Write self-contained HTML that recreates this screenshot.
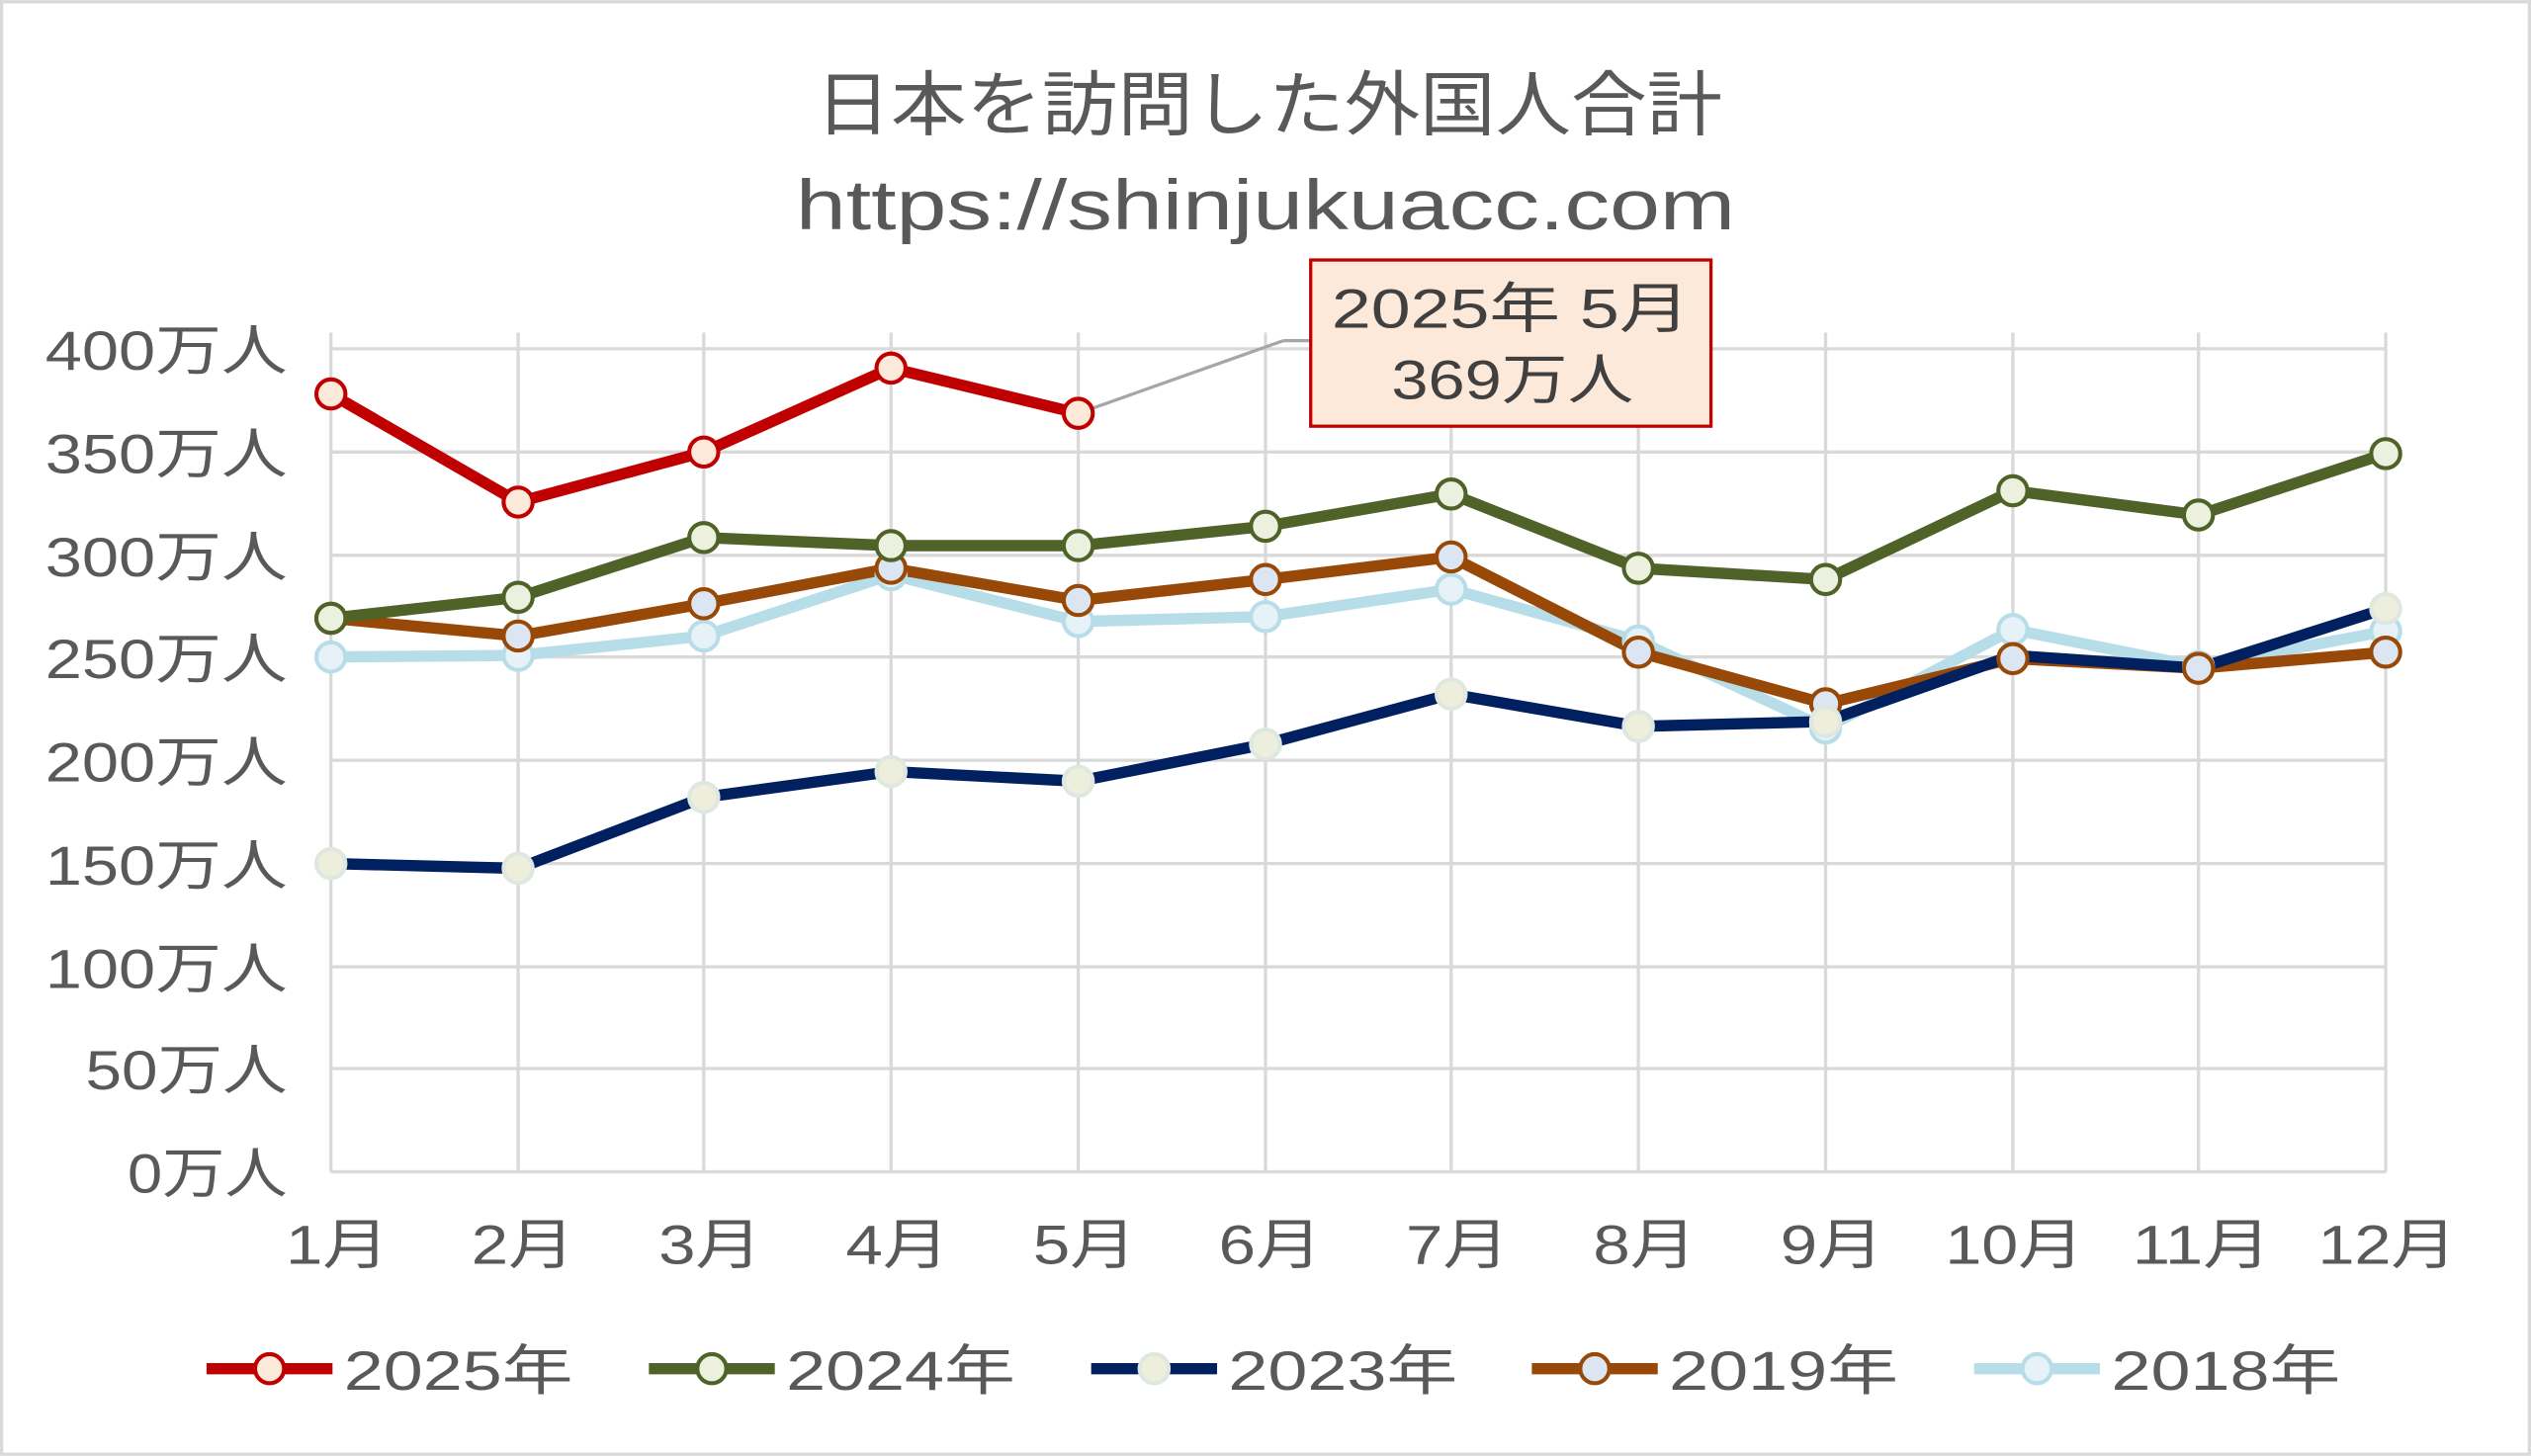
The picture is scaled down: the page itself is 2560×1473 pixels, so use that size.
<!DOCTYPE html>
<html><head><meta charset="utf-8"><style>
html,body{margin:0;padding:0;background:#fff}
svg{display:block}
text{font-family:"Liberation Sans","Noto Sans CJK JP",sans-serif;fill:#595959}
</style></head><body>
<svg width="2560" height="1473" viewBox="0 0 1568 902" xmlns="http://www.w3.org/2000/svg">
<rect x="1" y="1" width="1566" height="900" fill="#fff" stroke="#d9d9d9" stroke-width="2"/>
<text x="505" y="80" font-size="44" textLength="562" lengthAdjust="spacingAndGlyphs">日本を訪問した外国人合計</text>
<text x="493" y="142" font-size="44" textLength="582" lengthAdjust="spacingAndGlyphs">https://shinjukuacc.com</text>
<g stroke="#d9d9d9" stroke-width="2">
<line x1="205" y1="216" x2="1478" y2="216"/><line x1="205" y1="280" x2="1478" y2="280"/>
<line x1="205" y1="344" x2="1478" y2="344"/><line x1="205" y1="407" x2="1478" y2="407"/>
<line x1="205" y1="471" x2="1478" y2="471"/><line x1="205" y1="535" x2="1478" y2="535"/>
<line x1="205" y1="599" x2="1478" y2="599"/><line x1="205" y1="662" x2="1478" y2="662"/>
<line x1="205" y1="726" x2="1478" y2="726"/>
<line x1="205" y1="206" x2="205" y2="726"/><line x1="321" y1="206" x2="321" y2="726"/>
<line x1="436" y1="206" x2="436" y2="726"/><line x1="552" y1="206" x2="552" y2="726"/>
<line x1="668" y1="206" x2="668" y2="726"/><line x1="784" y1="206" x2="784" y2="726"/>
<line x1="899" y1="206" x2="899" y2="726"/><line x1="1015" y1="206" x2="1015" y2="726"/>
<line x1="1131" y1="206" x2="1131" y2="726"/><line x1="1247" y1="206" x2="1247" y2="726"/>
<line x1="1362" y1="206" x2="1362" y2="726"/><line x1="1478" y1="206" x2="1478" y2="726"/>
</g>
<g font-size="34">
<text x="28" y="229" textLength="150" lengthAdjust="spacingAndGlyphs">400万人</text><text x="28" y="293" textLength="150" lengthAdjust="spacingAndGlyphs">350万人</text>
<text x="28" y="357" textLength="150" lengthAdjust="spacingAndGlyphs">300万人</text><text x="28" y="420" textLength="150" lengthAdjust="spacingAndGlyphs">250万人</text>
<text x="28" y="484" textLength="150" lengthAdjust="spacingAndGlyphs">200万人</text><text x="28" y="548" textLength="150" lengthAdjust="spacingAndGlyphs">150万人</text>
<text x="28" y="612" textLength="150" lengthAdjust="spacingAndGlyphs">100万人</text><text x="53" y="675" textLength="125" lengthAdjust="spacingAndGlyphs">50万人</text>
<text x="79" y="739" textLength="99" lengthAdjust="spacingAndGlyphs">0万人</text>
</g>
<g font-size="34">
<text x="177" y="783" textLength="64" lengthAdjust="spacingAndGlyphs">1月</text><text x="292" y="783" textLength="64" lengthAdjust="spacingAndGlyphs">2月</text><text x="408" y="783" textLength="64" lengthAdjust="spacingAndGlyphs">3月</text>
<text x="524" y="783" textLength="64" lengthAdjust="spacingAndGlyphs">4月</text><text x="640" y="783" textLength="64" lengthAdjust="spacingAndGlyphs">5月</text><text x="755" y="783" textLength="64" lengthAdjust="spacingAndGlyphs">6月</text>
<text x="871" y="783" textLength="64" lengthAdjust="spacingAndGlyphs">7月</text><text x="987" y="783" textLength="64" lengthAdjust="spacingAndGlyphs">8月</text><text x="1103" y="783" textLength="64" lengthAdjust="spacingAndGlyphs">9月</text>
<text x="1205" y="783" textLength="86" lengthAdjust="spacingAndGlyphs">10月</text><text x="1321" y="783" textLength="86" lengthAdjust="spacingAndGlyphs">11月</text><text x="1436" y="783" textLength="86" lengthAdjust="spacingAndGlyphs">12月</text>
</g>
<line x1="668" y1="256" x2="795" y2="211" stroke="#a6a6a6" stroke-width="2"/>
<line x1="795" y1="211" x2="812" y2="211" stroke="#a6a6a6" stroke-width="2"/>
<rect x="812" y="161" width="248" height="103" fill="#fde9d9" stroke="#c00000" stroke-width="2"/>
<text x="825" y="203" font-size="34" textLength="222" lengthAdjust="spacingAndGlyphs" style="fill:#404040">2025年 5月</text>
<text x="862" y="247" font-size="34" textLength="150" lengthAdjust="spacingAndGlyphs" style="fill:#404040">369万人</text>
<g fill="none" stroke-width="7" stroke-linejoin="round">
<polyline stroke="#b7dee8" points="205,407 321,406 436,394 552,356 668,385 784,382 899,365 1015,397 1131,451 1247,390 1362,413 1478,391"/>
<polyline stroke="#984807" points="205,383 321,394 436,374 552,352 668,372 784,359 899,345 1015,404 1131,436 1247,408 1362,414 1478,404"/>
<polyline stroke="#002060" points="205,535 321,538 436,494 552,478 668,484 784,461 899,430 1015,450 1131,447 1247,406 1362,414 1478,377"/>
<polyline stroke="#4f6228" points="205,383 321,370 436,333 552,338 668,338 784,326 899,306 1015,352 1131,359 1247,304 1362,319 1478,281"/>
<polyline stroke="#c00000" points="205,244 321,311 436,280 552,228 668,256"/>
</g>
<g stroke-width="2.5" fill="#e6f2f8" stroke="#b7dee8">
<circle cx="205" cy="407" r="9"/><circle cx="321" cy="406" r="9"/><circle cx="436" cy="394" r="9"/><circle cx="552" cy="356" r="9"/><circle cx="668" cy="385" r="9"/><circle cx="784" cy="382" r="9"/><circle cx="899" cy="365" r="9"/><circle cx="1015" cy="397" r="9"/><circle cx="1131" cy="451" r="9"/><circle cx="1247" cy="390" r="9"/><circle cx="1362" cy="413" r="9"/><circle cx="1478" cy="391" r="9"/>
</g>
<g stroke-width="2.5" fill="#dce6f2" stroke="#984807">
<circle cx="205" cy="383" r="9"/><circle cx="321" cy="394" r="9"/><circle cx="436" cy="374" r="9"/><circle cx="552" cy="352" r="9"/><circle cx="668" cy="372" r="9"/><circle cx="784" cy="359" r="9"/><circle cx="899" cy="345" r="9"/><circle cx="1015" cy="404" r="9"/><circle cx="1131" cy="436" r="9"/><circle cx="1247" cy="408" r="9"/><circle cx="1362" cy="414" r="9"/><circle cx="1478" cy="404" r="9"/>
</g>
<g stroke-width="2.5" fill="#eeeedd" stroke="#dfe8e0">
<circle cx="205" cy="535" r="9"/><circle cx="321" cy="538" r="9"/><circle cx="436" cy="494" r="9"/><circle cx="552" cy="478" r="9"/><circle cx="668" cy="484" r="9"/><circle cx="784" cy="461" r="9"/><circle cx="899" cy="430" r="9"/><circle cx="1015" cy="450" r="9"/><circle cx="1131" cy="447" r="9"/><circle cx="1478" cy="377" r="9"/>
</g>
<g stroke-width="2.5" fill="#ebf1de" stroke="#4f6228">
<circle cx="205" cy="383" r="9"/><circle cx="321" cy="370" r="9"/><circle cx="436" cy="333" r="9"/><circle cx="552" cy="338" r="9"/><circle cx="668" cy="338" r="9"/><circle cx="784" cy="326" r="9"/><circle cx="899" cy="306" r="9"/><circle cx="1015" cy="352" r="9"/><circle cx="1131" cy="359" r="9"/><circle cx="1247" cy="304" r="9"/><circle cx="1362" cy="319" r="9"/><circle cx="1478" cy="281" r="9"/>
</g>
<g stroke-width="2.5" fill="#fde9d9" stroke="#c00000">
<circle cx="205" cy="244" r="9"/><circle cx="321" cy="311" r="9"/><circle cx="436" cy="280" r="9"/><circle cx="552" cy="228" r="9"/><circle cx="668" cy="256" r="9"/>
</g>
<g stroke-width="7">
<line x1="128" y1="848" x2="206" y2="848" stroke="#c00000"/><circle cx="167" cy="848" r="9" fill="#fde9d9" stroke="#c00000" stroke-width="2.5"/>
<line x1="402" y1="848" x2="480" y2="848" stroke="#4f6228"/><circle cx="441" cy="848" r="9" fill="#ebf1de" stroke="#4f6228" stroke-width="2.5"/>
<line x1="676" y1="848" x2="754" y2="848" stroke="#002060"/><circle cx="715" cy="848" r="9" fill="#eeeedd" stroke="#dfe8e0" stroke-width="2.5"/>
<line x1="949" y1="848" x2="1027" y2="848" stroke="#984807"/><circle cx="988" cy="848" r="9" fill="#dce6f2" stroke="#984807" stroke-width="2.5"/>
<line x1="1223" y1="848" x2="1301" y2="848" stroke="#b7dee8"/><circle cx="1262" cy="848" r="9" fill="#e6f2f8" stroke="#b7dee8" stroke-width="2.5"/>
</g>
<g font-size="34">
<text x="213" y="861" textLength="142" lengthAdjust="spacingAndGlyphs">2025年</text><text x="487" y="861" textLength="142" lengthAdjust="spacingAndGlyphs">2024年</text><text x="761" y="861" textLength="142" lengthAdjust="spacingAndGlyphs">2023年</text>
<text x="1034" y="861" textLength="142" lengthAdjust="spacingAndGlyphs">2019年</text><text x="1308" y="861" textLength="142" lengthAdjust="spacingAndGlyphs">2018年</text>
</g>
</svg>
</body></html>
